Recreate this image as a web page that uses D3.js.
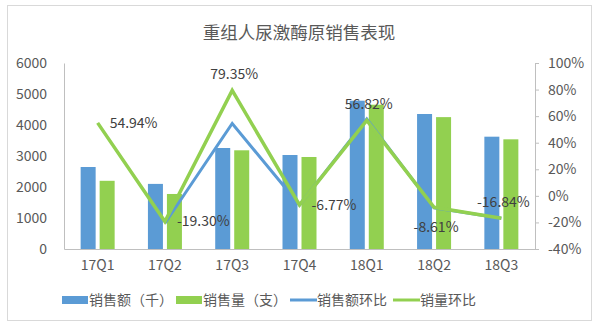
<!DOCTYPE html>
<html>
<head>
<meta charset="utf-8">
<script src="https://cdn.jsdelivr.net/npm/d3@7"></script>
<style>
  body { margin: 0; background: #fff; }
  text { font-family: "Noto Sans CJK SC", "Microsoft YaHei", sans-serif; }
</style>
</head>
<body>
<svg id="canvas" width="596" height="327"></svg>
<script>
let quarters = ['17Q1', '17Q2', '17Q3', '17Q4', '18Q1', '18Q2', '18Q3']
let salesAmount = [2645, 2100, 3258, 3032, 4784, 4355, 3623]
let salesVolume = [2200, 1775, 3184, 2968, 4655, 4254, 3538]
let amountGrowth = [null, -20.6, 54.5, -6.9, 57.8, -9.0, -16.8]
let volumeGrowth = [54.94, -19.30, 79.35, -6.77, 56.82, -8.61, -16.84]
let leftTicks = [0, 1000, 2000, 3000, 4000, 5000, 6000]
let rightTicks = [-40, -20, 0, 20, 40, 60, 80, 100]
let legendNames = ['销售额（千）', '销售量（支）', '销售额环比', '销量环比']

// where each volume-growth label sits relative to its point
let labelSide = ['right', 'right', 'above', 'right', 'above', 'below', 'above']

let blue = '#5b9bd5'
let green = '#92d050'
let textColor = '#595959'

let canvas = d3.select('#canvas')

// outer frame
canvas.append('rect')
      .attr('x', 7.5).attr('y', 5.5)
      .attr('width', 584).attr('height', 315)
      .attr('fill', 'none')
      .attr('stroke', '#d9d9d9')

canvas.append('text')
      .text('重组人尿激酶原销售表现')
      .attr('x', 299).attr('y', 39)
      .attr('text-anchor', 'middle')
      .attr('font-size', 17.5)
      .attr('fill', textColor)

let x = d3.scaleBand().domain(quarters).range([64, 535])
let yLeft = d3.scaleLinear().domain([0, 6000]).range([249, 63])
let yRight = d3.scaleLinear().domain([-40, 100]).range([249, 63])
let cx = (q) => x(q) + x.bandwidth() / 2

// left axis
let leftAxis = canvas.append('g')
      .attr('transform', 'translate(64,0)')
      .call(d3.axisLeft(yLeft).tickValues(leftTicks).tickSize(0).tickPadding(17)
              .tickFormat(d3.format('d')))
leftAxis.select('.domain').attr('stroke', '#bfbfbf')
leftAxis.selectAll('text').attr('font-size', 14).attr('fill', textColor)
        .style('font-family', '"Noto Sans CJK SC", sans-serif')

// right axis
let rightAxis = canvas.append('g')
      .attr('transform', 'translate(535,0)')
      .call(d3.axisRight(yRight).tickValues(rightTicks).tickSize(4).tickPadding(9)
              .tickFormat((d) => d + '%'))
rightAxis.select('.domain').attr('stroke', '#bfbfbf')
rightAxis.selectAll('line').attr('stroke', '#bfbfbf')
rightAxis.selectAll('text').attr('font-size', 14).attr('fill', textColor)
         .style('font-family', '"Noto Sans CJK SC", sans-serif')

// bottom axis
let bottomAxis = canvas.append('g')
      .attr('transform', 'translate(0,249)')
      .call(d3.axisBottom(x).tickSize(0).tickPadding(11))
bottomAxis.select('.domain').attr('stroke', '#bfbfbf')
bottomAxis.selectAll('text').attr('font-size', 14).attr('fill', textColor)
          .style('font-family', '"Noto Sans CJK SC", sans-serif')

let barW = 15
let gap = 4

canvas.append('g').selectAll('rect')
      .data(quarters)
      .enter()
      .append('rect')
      .attr('x', (q) => cx(q) - gap / 2 - barW)
      .attr('y', (q, i) => yLeft(salesAmount[i]))
      .attr('width', barW)
      .attr('height', (q, i) => yLeft(0) - yLeft(salesAmount[i]))
      .attr('fill', blue)

canvas.append('g').selectAll('rect')
      .data(quarters)
      .enter()
      .append('rect')
      .attr('x', (q) => cx(q) + gap / 2)
      .attr('y', (q, i) => yLeft(salesVolume[i]))
      .attr('width', barW)
      .attr('height', (q, i) => yLeft(0) - yLeft(salesVolume[i]))
      .attr('fill', green)

let line = d3.line()
             .defined((d) => d.v !== null)
             .x((d) => cx(d.q))
             .y((d) => yRight(d.v))

canvas.append('path')
      .datum(quarters.map((q, i) => ({ q: q, v: amountGrowth[i] })))
      .attr('d', line)
      .attr('fill', 'none')
      .attr('stroke', blue)
      .attr('stroke-width', 3)

canvas.append('path')
      .datum(quarters.map((q, i) => ({ q: q, v: volumeGrowth[i] })))
      .attr('d', line)
      .attr('fill', 'none')
      .attr('stroke', green)
      .attr('stroke-width', 3.5)

canvas.append('g').selectAll('text')
      .data(quarters)
      .enter()
      .append('text')
      .text((q, i) => volumeGrowth[i].toFixed(2) + '%')
      .attr('x', (q, i) => labelSide[i] === 'right' ? cx(q) + 12 : cx(q) + 2)
      .attr('y', (q, i) => {
          let py = yRight(volumeGrowth[i])
          if (labelSide[i] === 'above') return py - 11
          if (labelSide[i] === 'below') return py + 25
          return py + 5
      })
      .attr('text-anchor', (q, i) => labelSide[i] === 'right' ? 'start' : 'middle')
      .attr('font-size', 14)
      .attr('fill', '#404040')

// legend
let legendX = [62, 176, 290, 393]
let legend = canvas.append('g')
legendNames.forEach((name, i) => {
    let g = legend.append('g').attr('transform', 'translate(' + legendX[i] + ',300)')
    if (i < 2) {
        g.append('rect').attr('x', 0).attr('y', -4).attr('width', 26).attr('height', 8)
         .attr('fill', i === 0 ? blue : green)
    } else {
        g.append('line').attr('x1', 0).attr('x2', 27).attr('y1', 0).attr('y2', 0)
         .attr('stroke', i === 2 ? blue : green).attr('stroke-width', 3)
    }
    g.append('text').text(name)
     .attr('x', 27).attr('y', 5)
     .attr('font-size', 14)
     .attr('fill', textColor)
})
</script>
</body>
</html>
